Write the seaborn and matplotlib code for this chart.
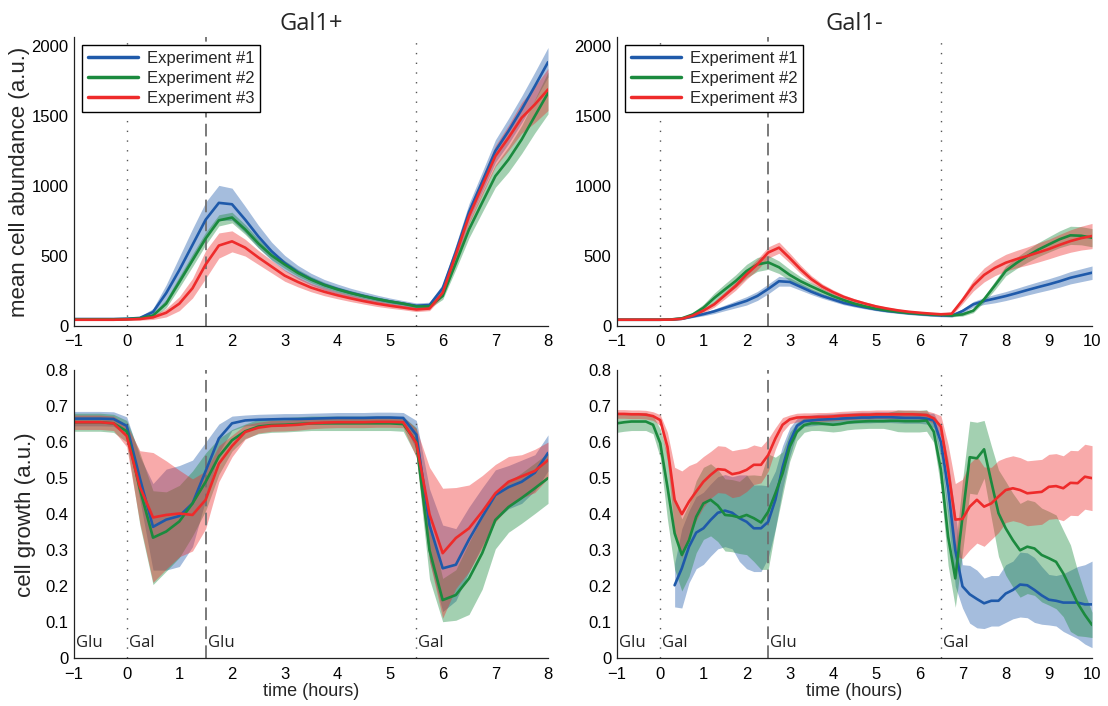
import numpy as np
import matplotlib
matplotlib.use('Agg')
import matplotlib.pyplot as plt
import seaborn as sns

# time grids (hours)
t_plus = np.arange(-1, 8.01, 0.25)
t_minus = np.arange(-1, 10.01, 0.25)
t_minus_fine = np.arange(67) / 6 - 1

nan = np.nan
labels = ['Experiment #1', 'Experiment #2', 'Experiment #3']
colors = ['#1f5aaa', '#1b8a3e', '#ee2b2b']

# Gal1+ : mean cell abundance (mean and band half-width)
ab_plus_1 = [50, 50, 50, 50, 52, 58, 100, 235, 400, 580, 760, 880, 870,
             760, 640, 535, 450, 385, 335, 295, 265, 238, 215, 193, 175, 160, 145, 150, 270,
             530, 815, 1030, 1250, 1393, 1548, 1714, 1885]
ab_plus_2 = [48, 48, 48, 48, 50, 55, 75, 160, 315, 470, 625, 755, 775,
             690, 590, 505, 440, 380, 332, 293, 262, 236, 213, 193, 175, 160, 140, 140, 215,
             450, 690, 882, 1071, 1190, 1333, 1500, 1665]
ab_plus_3 = [45, 45, 45, 45, 47, 50, 62, 95, 160, 270, 440, 575, 605,
             560, 490, 425, 360, 315, 275, 245, 220, 198, 178, 160, 145, 132, 118, 125, 238,
             510, 786, 1000, 1214, 1345, 1488, 1583, 1690]
ab_plus_1_sd = [8, 8, 8, 8, 8, 10, 25, 60, 95, 115, 125, 125, 115,
                95, 80, 65, 55, 48, 42, 38, 35, 32, 30, 28, 25, 22, 20, 20, 30,
                50, 60, 70, 80, 90, 95, 100, 105]
ab_plus_2_sd = [6, 6, 6, 6, 6, 8, 15, 30, 40, 45, 45, 40, 38,
                35, 32, 30, 28, 25, 22, 20, 18, 17, 16, 15, 14, 13, 12, 12, 25,
                45, 60, 70, 80, 90, 100, 120, 150]
ab_plus_3_sd = [6, 6, 6, 6, 6, 8, 15, 30, 50, 70, 100, 90, 75,
                60, 50, 45, 40, 35, 30, 28, 25, 23, 21, 20, 18, 16, 15, 15, 25,
                45, 55, 65, 75, 90, 110, 130, 150]

# Gal1- : mean cell abundance
ab_minus_1 = [45, 45, 45, 45, 45, 47, 52, 68, 85, 105, 130, 155, 180,
              215, 265, 320, 315, 280, 245, 215, 190, 165, 148, 133, 119, 108, 100, 92, 86,
              80, 76, 74, 107, 155, 179, 196, 214, 235, 257, 278, 298, 320, 345, 363, 381]
ab_minus_2 = [45, 45, 45, 45, 45, 47, 55, 82, 130, 200, 262, 322, 393,
              440, 455, 420, 365, 320, 283, 248, 214, 185, 160, 140, 124, 112, 102, 94, 88,
              83, 80, 76, 83, 110, 191, 290, 393, 450, 500, 545, 583, 620, 648, 645, 631]
ab_minus_3 = [45, 45, 45, 45, 45, 46, 52, 74, 110, 155, 220, 287, 369,
              440, 525, 560, 485, 405, 335, 282, 242, 208, 182, 160, 140, 125, 112, 102, 95,
              89, 84, 88, 185, 290, 365, 415, 452, 478, 500, 525, 550, 580, 607, 628, 643]
ab_minus_1_sd = [5, 5, 5, 5, 5, 5, 6, 8, 12, 16, 20, 25, 30,
                 32, 35, 35, 30, 25, 20, 17, 15, 13, 12, 11, 10, 10, 10, 10, 10,
                 10, 10, 10, 15, 20, 25, 30, 32, 34, 36, 38, 40, 42, 44, 46, 48]
ab_minus_2_sd = [5, 5, 5, 5, 5, 5, 8, 15, 25, 35, 40, 45, 48,
                 50, 50, 45, 40, 32, 27, 22, 18, 15, 13, 12, 11, 10, 10, 10, 10,
                 10, 10, 10, 12, 15, 20, 30, 35, 40, 45, 50, 55, 60, 65, 65, 65]
ab_minus_3_sd = [5, 5, 5, 5, 5, 5, 6, 10, 15, 20, 25, 30, 35,
                 38, 40, 40, 35, 30, 25, 20, 17, 15, 13, 12, 11, 10, 10, 10, 10,
                 10, 10, 12, 25, 40, 50, 55, 60, 62, 65, 68, 70, 75, 80, 85, 90]

# Gal1+ : cell growth
gr_plus_1 = [0.665, 0.665, 0.665, 0.664, 0.645, 0.5, 0.365, 0.385, 0.395, 0.43, 0.52, 0.61, 0.652,
             0.66, 0.662, 0.663, 0.664, 0.664, 0.665, 0.666, 0.667,
             0.667, 0.667, 0.668, 0.668, 0.667, 0.62, 0.37, 0.25,
             0.26, 0.33, 0.393, 0.453, 0.475, 0.49, 0.515, 0.57]
gr_plus_2 = [0.655, 0.655, 0.655, 0.652, 0.63, 0.47, 0.335, 0.352, 0.38, 0.43, 0.49, 0.56, 0.605,
             0.63, 0.643, 0.647, 0.648, 0.65, 0.652, 0.652, 0.652,
             0.652, 0.652, 0.652, 0.652, 0.65, 0.6, 0.3, 0.162,
             0.176, 0.222, 0.292, 0.384, 0.42, 0.445, 0.472, 0.5]
gr_plus_3 = [0.655, 0.655, 0.655, 0.652, 0.617, 0.476, 0.391, 0.398, 0.402, 0.398, 0.44, 0.54, 0.589,
             0.628, 0.64, 0.645, 0.646, 0.648, 0.652, 0.654, 0.655,
             0.655, 0.655, 0.656, 0.656, 0.655, 0.597, 0.40, 0.292,
             0.334, 0.361, 0.407, 0.458, 0.49, 0.505, 0.52, 0.55]
gr_plus_1_sd = [0.02, 0.02, 0.02, 0.02, 0.025, 0.06, 0.12, 0.14, 0.14, 0.12, 0.08, 0.04, 0.02,
                0.015, 0.015, 0.015, 0.015, 0.015, 0.015, 0.015, 0.015,
                0.015, 0.015, 0.015, 0.015, 0.015, 0.04, 0.1, 0.12,
                0.1, 0.09, 0.08, 0.07, 0.06, 0.06, 0.05, 0.05]
gr_plus_2_sd = [0.025, 0.025, 0.025, 0.025, 0.03, 0.1, 0.13, 0.11, 0.1, 0.09, 0.08, 0.05, 0.03,
                0.02, 0.02, 0.02, 0.02, 0.02, 0.02, 0.02, 0.02,
                0.02, 0.02, 0.02, 0.02, 0.02, 0.04, 0.08, 0.06,
                0.07, 0.1, 0.1, 0.08, 0.07, 0.07, 0.07, 0.07]
gr_plus_3_sd = [0.02, 0.02, 0.02, 0.02, 0.03, 0.1, 0.18, 0.15, 0.12, 0.1, 0.08, 0.05, 0.03,
                0.02, 0.015, 0.015, 0.015, 0.015, 0.015, 0.015, 0.015,
                0.015, 0.015, 0.015, 0.015, 0.015, 0.04, 0.13, 0.18,
                0.14, 0.12, 0.1, 0.08, 0.07, 0.06, 0.06, 0.05]

# Gal1- : cell growth (10 min steps)
gr_minus_1 = [nan, nan, nan, nan, nan, nan,
              nan, nan, 0.203, 0.25, 0.31, 0.349,
              0.361, 0.384, 0.404, 0.41, 0.404, 0.389,
              0.379, 0.361, 0.361, 0.379, 0.44, 0.53,
              0.6, 0.645, 0.658, 0.66, 0.662, 0.663,
              0.664, 0.665, 0.666, 0.667, 0.668, 0.668,
              0.669, 0.669, 0.669, 0.668, 0.667, 0.667,
              0.667, 0.665, 0.66, 0.6, 0.47, 0.3,
              0.2, 0.178, 0.165, 0.153, 0.16, 0.16,
              0.18, 0.19, 0.205, 0.203, 0.19, 0.175,
              0.163, 0.16, 0.155, 0.155, 0.155, 0.15,
              0.15]
gr_minus_2 = [0.652, 0.655, 0.657, 0.657, 0.657, 0.648,
              0.597, 0.476, 0.347, 0.287, 0.328, 0.393,
              0.43, 0.44, 0.424, 0.398, 0.396, 0.391,
              0.398, 0.389, 0.377, 0.407, 0.458, 0.513,
              0.587, 0.629, 0.647, 0.652, 0.652, 0.65,
              0.648, 0.65, 0.654, 0.656, 0.657, 0.658,
              0.658, 0.658, 0.659, 0.659, 0.658, 0.658,
              0.658, 0.66, 0.629, 0.523, 0.338, 0.222,
              0.393, 0.558, 0.555, 0.58, 0.49, 0.403,
              0.361, 0.328, 0.3, 0.31, 0.305, 0.287,
              0.278, 0.268, 0.236, 0.195, 0.153, 0.121,
              0.093]
gr_minus_3 = [0.678, 0.678, 0.677, 0.677, 0.676, 0.672,
              0.661, 0.587, 0.44, 0.40, 0.435, 0.463,
              0.49, 0.509, 0.525, 0.523, 0.511, 0.515,
              0.523, 0.537, 0.537, 0.564, 0.61, 0.648,
              0.663, 0.668, 0.669, 0.669, 0.67, 0.67,
              0.671, 0.673, 0.674, 0.675, 0.676, 0.676,
              0.677, 0.677, 0.677, 0.677, 0.677, 0.677,
              0.676, 0.675, 0.666, 0.643, 0.523, 0.385,
              0.387, 0.421, 0.44, 0.421, 0.43, 0.449,
              0.467, 0.472, 0.467, 0.458, 0.46, 0.462,
              0.476, 0.478, 0.472, 0.487, 0.486, 0.504,
              0.5]
gr_minus_1_sd = [nan, nan, nan, nan, nan, nan,
                 nan, nan, 0.06, 0.11, 0.1, 0.1,
                 0.1, 0.1, 0.1, 0.1, 0.1, 0.12,
                 0.13, 0.12, 0.12, 0.1, 0.08, 0.06,
                 0.04, 0.02, 0.015, 0.015, 0.015, 0.015,
                 0.015, 0.015, 0.015, 0.015, 0.015, 0.015,
                 0.015, 0.015, 0.015, 0.015, 0.015, 0.015,
                 0.015, 0.015, 0.02, 0.04, 0.08, 0.1,
                 0.06, 0.08, 0.08, 0.07, 0.07, 0.07,
                 0.08, 0.08, 0.09, 0.09, 0.09, 0.08,
                 0.07, 0.07, 0.08, 0.09, 0.1, 0.11,
                 0.12]
gr_minus_2_sd = [0.025, 0.025, 0.025, 0.025, 0.025, 0.025,
                 0.04, 0.09, 0.1, 0.1, 0.1, 0.1,
                 0.1, 0.1, 0.1, 0.1, 0.1, 0.1,
                 0.11, 0.12, 0.13, 0.16, 0.1, 0.06,
                 0.04, 0.025, 0.02, 0.02, 0.02, 0.02,
                 0.02, 0.02, 0.02, 0.02, 0.02, 0.02,
                 0.02, 0.02, 0.025, 0.03, 0.03, 0.03,
                 0.03, 0.03, 0.03, 0.05, 0.08, 0.08,
                 0.1, 0.1, 0.1, 0.08, 0.1, 0.12,
                 0.13, 0.13, 0.13, 0.13, 0.13, 0.13,
                 0.13, 0.13, 0.12, 0.12, 0.09, 0.06,
                 0.035]
gr_minus_3_sd = [0.012, 0.012, 0.012, 0.012, 0.012, 0.012,
                 0.015, 0.04, 0.09, 0.12, 0.1, 0.08,
                 0.07, 0.065, 0.065, 0.065, 0.065, 0.065,
                 0.06, 0.055, 0.05, 0.045, 0.03, 0.02,
                 0.012, 0.012, 0.012, 0.012, 0.012, 0.012,
                 0.012, 0.012, 0.012, 0.012, 0.012, 0.012,
                 0.012, 0.012, 0.012, 0.012, 0.012, 0.012,
                 0.012, 0.012, 0.015, 0.03, 0.07, 0.1,
                 0.11, 0.12, 0.12, 0.11, 0.1, 0.1,
                 0.09, 0.09, 0.09, 0.09, 0.09, 0.09,
                 0.09, 0.09, 0.09, 0.09, 0.09, 0.09,
                 0.09]

sns.set_style('white')
plt.rcParams['font.family'] = ['Liberation Sans', 'DejaVu Sans']

fig = plt.figure(figsize=(11.08, 7.06), dpi=100)
ax_tl = fig.add_axes([0.0668, 0.5382, 0.4278, 0.4094])
ax_tr = fig.add_axes([0.5569, 0.5382, 0.4287, 0.4094])
ax_bl = fig.add_axes([0.0668, 0.0673, 0.4278, 0.4087])
ax_br = fig.add_axes([0.5569, 0.0673, 0.4287, 0.4087])


def draw(ax, t, means, sds, legend):
    for m, s, c, lab in zip(means, sds, colors, labels):
        m = np.array(m, dtype=float)
        s = np.array(s, dtype=float)
        ax.fill_between(t, m - s, m + s, color=c, alpha=0.4, lw=0)
        sns.lineplot(x=t, y=m, ax=ax, color=c, lw=1.9,
                     label=lab if legend else None, legend=legend)


draw(ax_tl, t_plus, [ab_plus_1, ab_plus_2, ab_plus_3],
     [ab_plus_1_sd, ab_plus_2_sd, ab_plus_3_sd], True)
draw(ax_tr, t_minus, [ab_minus_1, ab_minus_2, ab_minus_3],
     [ab_minus_1_sd, ab_minus_2_sd, ab_minus_3_sd], True)
draw(ax_bl, t_plus, [gr_plus_1, gr_plus_2, gr_plus_3],
     [gr_plus_1_sd, gr_plus_2_sd, gr_plus_3_sd], False)
draw(ax_br, t_minus_fine, [gr_minus_1, gr_minus_2, gr_minus_3],
     [gr_minus_1_sd, gr_minus_2_sd, gr_minus_3_sd], False)

# switch times: dotted = medium change, dashed = Gal1 switch
for ax, xmax, dots, dash in [(ax_tl, 8, [0, 5.5], 1.5), (ax_bl, 8, [0, 5.5], 1.5),
                             (ax_tr, 10, [0, 6.5], 2.5), (ax_br, 10, [0, 6.5], 2.5)]:
    for d in dots:
        ax.axvline(d, color='#555555', lw=1.0, ls=(0, (1, 6)), zorder=1.5)
    ax.axvline(dash, color='#707070', lw=1.3, ls=(0, (7, 3.5)), zorder=1.5)
    ax.set_xlim(-1, xmax)
    ax.set_xticks(range(-1, xmax + 1))
    sns.despine(ax=ax)
    for sp in ['left', 'bottom']:
        ax.spines[sp].set_color('#222222')
        ax.spines[sp].set_linewidth(0.9)
    ax.tick_params(direction='in', length=4, width=0.8, labelsize=12, pad=4,
                   color='#222222', labelcolor='black')
    ax.tick_params(axis='x', pad=6)
    ax.set_xlabel('')
    ax.set_ylabel('')

for ax in [ax_tl, ax_tr]:
    ax.set_ylim(0, 2065)
    ax.set_yticks([0, 500, 1000, 1500, 2000])
    leg = ax.legend(loc='upper left', fontsize=12, frameon=True, fancybox=False,
                    edgecolor='black', framealpha=1, handlelength=3.0,
                    borderaxespad=0.5, labelspacing=0.3, handletextpad=0.5,
                    borderpad=0.35)
    leg.get_frame().set_linewidth(1.0)
    for h in leg.get_lines():
        h.set_linewidth(2.5)

for ax in [ax_bl, ax_br]:
    ax.set_ylim(0, 0.8)
    ax.set_yticks(np.arange(0, 0.81, 0.1))
    ax.set_yticklabels(['0', '0.1', '0.2', '0.3', '0.4', '0.5', '0.6', '0.7', '0.8'])
    ax.set_xlabel('time (hours)', fontsize=13, labelpad=1)

ax_tl.set_title('Gal1+', fontsize=17, pad=5, family=['Open Sans', 'DejaVu Sans'])
ax_tr.set_title('Gal1-', fontsize=17, pad=5, family=['Open Sans', 'DejaVu Sans'])

# label anchor is the right edge of the rotated text
ax_tl.set_ylabel('mean cell abundance (a.u.)', fontsize=16)
ax_tl.yaxis.set_label_coords(-0.092, 0.5)
ax_bl.set_ylabel('cell growth (a.u.)', fontsize=16)
ax_bl.yaxis.set_label_coords(-0.08, 0.5)

# medium annotations
for ax, marks in [(ax_bl, [(-1, 'Glu'), (0, 'Gal'), (1.5, 'Glu'), (5.5, 'Gal')]),
                  (ax_br, [(-1, 'Glu'), (0, 'Gal'), (2.5, 'Glu'), (6.5, 'Gal')])]:
    for x, s in marks:
        ax.text(x + 0.04, 0.02, s, fontsize=12, va='bottom', ha='left',
                family=['Open Sans', 'DejaVu Sans'], color='#222222')

fig.savefig('out.png', dpi=100)
